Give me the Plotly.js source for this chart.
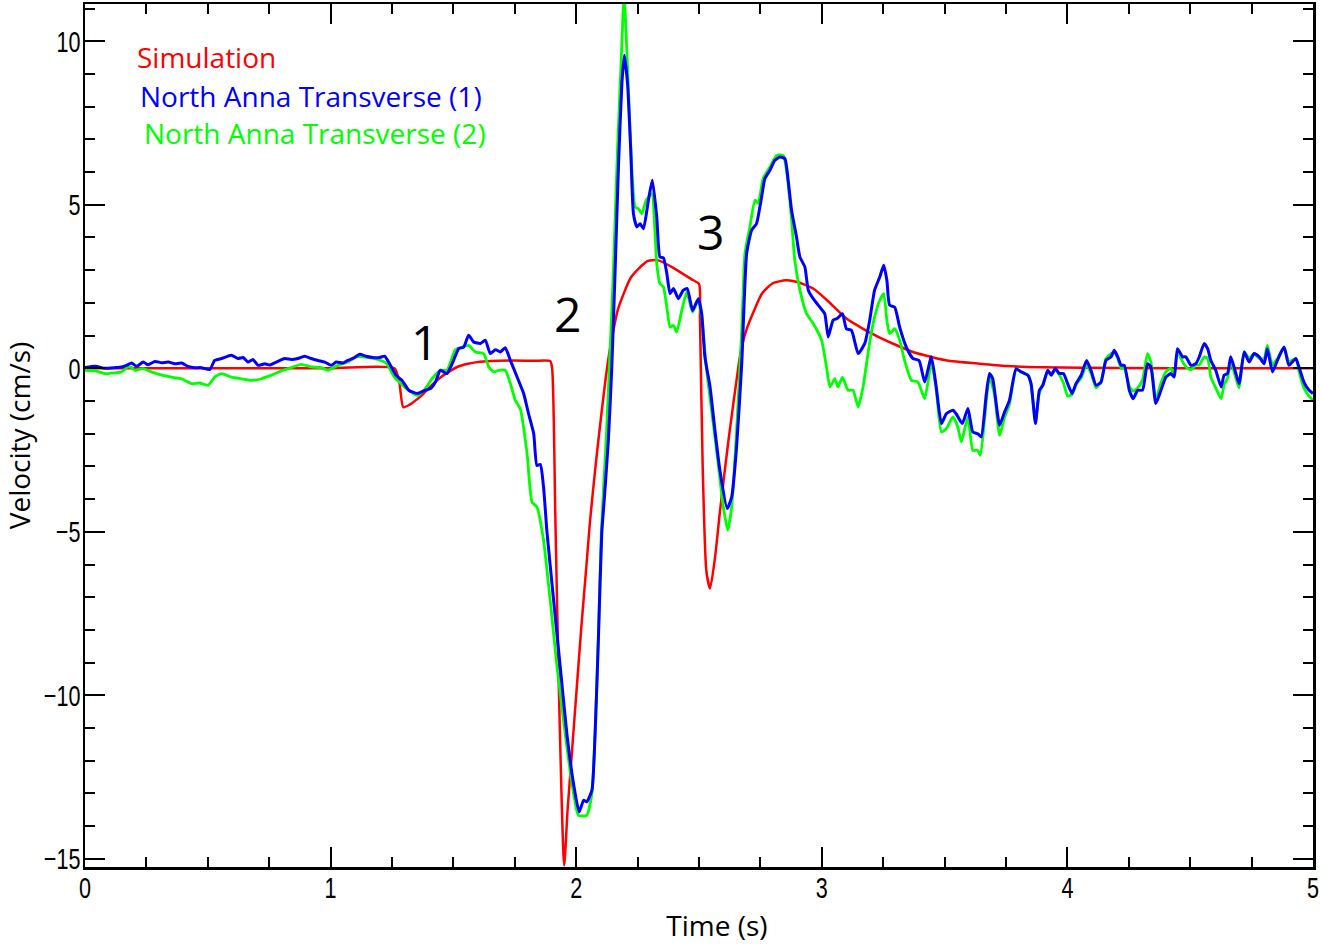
<!DOCTYPE html>
<html>
<head>
<meta charset="utf-8">
<script src="https://cdn.plot.ly/plotly-3.0.1.min.js"></script>
<style>html,body{margin:0;padding:0;background:#fff;}#chart{width:1321px;height:944px;}</style>
</head>
<body>
<div id="chart"></div>
<script>
// Simulation (red)
const simT = [0, 0.5, 1.0, 1.26, 1.28, 1.296, 1.32, 1.366, 1.40, 1.447, 1.515, 1.56, 1.61, 1.68, 1.744, 1.83, 1.894, 1.902, 1.915, 1.93, 1.951, 1.965, 1.99, 2.02, 2.042, 2.056, 2.08, 2.13, 2.15, 2.17, 2.224, 2.29, 2.335, 2.40, 2.47, 2.50, 2.504, 2.515, 2.53, 2.545, 2.565, 2.585, 2.62, 2.66, 2.67, 2.694, 2.758, 2.80, 2.854, 2.90, 2.965, 3.03, 3.10, 3.17, 3.236, 3.30, 3.371, 3.45, 3.51, 3.642, 3.75, 3.90, 4.2, 4.6, 5.0];
const simV = [0, 0, 0, 0, -0.45, -1.19, -1.12, -0.86, -0.6, -0.28, 0.04, 0.14, 0.2, 0.23, 0.24, 0.23, 0.22, 0.0, -4.5, -10.0, -15.2, -13.5, -11.0, -8.0, -6.0, -4.7, -2.9, 0.24, 1.1, 1.8, 2.79, 3.28, 3.30, 3.05, 2.72, 2.58, 1.5, -3.0, -6.2, -6.73, -5.8, -4.4, -2.2, 0.03, 0.5, 1.2, 2.3, 2.6, 2.69, 2.64, 2.44, 2.02, 1.52, 1.2, 0.94, 0.72, 0.50, 0.34, 0.24, 0.14, 0.07, 0.03, 0.01, 0, 0];

// North Anna Transverse (1) (blue)
const na1T = [0.000, 0.041, 0.081, 0.122, 0.149, 0.169, 0.190, 0.210, 0.237, 0.257, 0.285, 0.312, 0.339, 0.366, 0.393, 0.420, 0.447, 0.474, 0.508, 0.528, 0.556, 0.596, 0.623, 0.644, 0.664, 0.684, 0.705, 0.732, 0.752, 0.779, 0.813, 0.840, 0.867, 0.894, 0.921, 0.949, 0.976, 1.003, 1.023, 1.050, 1.070, 1.098, 1.118, 1.145, 1.172, 1.199, 1.220, 1.240, 1.267, 1.291, 1.318, 1.352, 1.386, 1.407, 1.427, 1.447, 1.474, 1.495, 1.522, 1.542, 1.562, 1.583, 1.610, 1.630, 1.650, 1.671, 1.691, 1.711, 1.732, 1.759, 1.786, 1.806, 1.827, 1.840, 1.854, 1.867, 1.881, 1.908, 1.935, 1.962, 1.989, 2.012, 2.030, 2.043, 2.064, 2.077, 2.091, 2.104, 2.114, 2.131, 2.145, 2.159, 2.172, 2.186, 2.196, 2.209, 2.222, 2.233, 2.247, 2.260, 2.274, 2.294, 2.310, 2.328, 2.341, 2.355, 2.369, 2.382, 2.396, 2.416, 2.436, 2.452, 2.474, 2.497, 2.511, 2.524, 2.545, 2.565, 2.585, 2.615, 2.633, 2.653, 2.674, 2.694, 2.714, 2.734, 2.755, 2.768, 2.789, 2.809, 2.829, 2.850, 2.863, 2.877, 2.897, 2.911, 2.931, 2.945, 2.965, 2.992, 3.012, 3.026, 3.046, 3.062, 3.084, 3.100, 3.121, 3.148, 3.175, 3.195, 3.215, 3.236, 3.252, 3.265, 3.276, 3.297, 3.317, 3.344, 3.371, 3.396, 3.419, 3.446, 3.466, 3.487, 3.507, 3.534, 3.547, 3.572, 3.595, 3.615, 3.635, 3.649, 3.670, 3.683, 3.696, 3.724, 3.744, 3.764, 3.791, 3.812, 3.839, 3.852, 3.870, 3.886, 3.900, 3.920, 3.934, 3.951, 3.967, 3.984, 4.001, 4.019, 4.035, 4.056, 4.078, 4.096, 4.117, 4.137, 4.157, 4.178, 4.191, 4.205, 4.219, 4.232, 4.252, 4.268, 4.286, 4.306, 4.326, 4.340, 4.360, 4.381, 4.401, 4.421, 4.435, 4.448, 4.469, 4.482, 4.503, 4.523, 4.537, 4.557, 4.571, 4.584, 4.604, 4.626, 4.638, 4.652, 4.665, 4.686, 4.699, 4.720, 4.740, 4.760, 4.781, 4.801, 4.814, 4.835, 4.855, 4.882, 4.902, 4.930, 4.943, 4.963, 4.984, 5.000];
const na1V = [0.02, 0.06, 0.00, 0.02, 0.04, 0.09, 0.16, 0.06, 0.19, 0.11, 0.21, 0.17, 0.19, 0.14, 0.16, 0.06, 0.02, 0.02, -0.04, 0.24, 0.30, 0.40, 0.30, 0.33, 0.19, 0.27, 0.09, 0.14, 0.10, 0.19, 0.30, 0.27, 0.30, 0.37, 0.30, 0.24, 0.19, 0.09, 0.19, 0.16, 0.24, 0.33, 0.43, 0.37, 0.33, 0.33, 0.37, 0.14, -0.22, -0.37, -0.67, -0.77, -0.67, -0.62, -0.42, -0.06, -0.16, 0.14, 0.60, 0.65, 1.01, 0.80, 0.76, 0.86, 0.45, 0.57, 0.50, 0.63, 0.24, -0.26, -0.77, -1.39, -2.00, -2.97, -2.94, -3.63, -5.0, -7.09, -9.13, -11.17, -12.7, -13.57, -13.21, -13.26, -12.9, -11.17, -8.11, -5.05, -4.04, -2.2, 0.04, 3.10, 6.16, 8.71, 9.57, 8.71, 6.67, 4.73, 4.32, 4.42, 4.27, 5.14, 5.75, 4.63, 3.40, 3.38, 2.90, 2.28, 2.44, 2.13, 2.39, 2.44, 1.77, 2.13, 1.67, 0.35, -0.57, -1.90, -3.12, -4.29, -3.94, -2.41, 0.14, 3.51, 4.22, 4.42, 5.24, 5.80, 6.06, 6.36, 6.46, 6.41, 5.75, 4.83, 4.02, 3.40, 3.10, 2.39, 2.13, 1.87, 1.67, 0.96, 1.47, 1.52, 1.67, 1.21, 1.16, 0.45, 0.76, 1.47, 2.39, 2.79, 3.15, 2.69, 1.93, 1.87, 1.26, 0.65, 0.30, 0.24, -0.42, 0.35, -0.57, -1.69, -1.39, -1.28, -1.39, -1.69, -1.23, -1.95, -2.0, -2.10, -0.77, -0.16, -0.32, -1.74, -1.34, -0.98, -0.01, -0.11, -0.21, -0.47, -1.69, -0.67, -0.52, -0.06, -0.21, -0.01, -0.16, -0.16, -0.47, -0.77, -0.47, -0.21, 0.24, -0.06, -0.52, -0.42, 0.24, 0.35, 0.55, 0.35, 0.09, 0.09, -0.67, -0.93, -0.67, -0.67, 0.14, 0.04, -1.08, -0.67, -0.27, -0.16, -0.27, 0.60, 0.35, 0.35, 0.09, 0.14, 0.35, 0.76, 0.60, 0.24, -0.06, -0.57, -0.21, -0.16, 0.35, -0.16, -0.47, 0.50, 0.19, 0.45, 0.35, 0.14, 0.60, -0.11, 0.24, 0.65, 0.09, 0.30, 0.04, -0.42, -0.67, -0.77];

// North Anna Transverse (2) (green)
const na2T = [0.000, 0.041, 0.081, 0.122, 0.149, 0.176, 0.190, 0.203, 0.237, 0.271, 0.312, 0.352, 0.393, 0.434, 0.467, 0.501, 0.528, 0.556, 0.596, 0.637, 0.678, 0.718, 0.759, 0.799, 0.840, 0.881, 0.921, 0.962, 0.989, 1.030, 1.070, 1.104, 1.152, 1.192, 1.226, 1.260, 1.301, 1.318, 1.352, 1.386, 1.413, 1.447, 1.474, 1.508, 1.535, 1.562, 1.589, 1.623, 1.644, 1.664, 1.684, 1.711, 1.732, 1.752, 1.772, 1.800, 1.820, 1.840, 1.867, 1.894, 1.922, 1.955, 1.983, 2.009, 2.043, 2.064, 2.077, 2.091, 2.102, 2.122, 2.135, 2.152, 2.168, 2.182, 2.195, 2.209, 2.226, 2.240, 2.253, 2.267, 2.285, 2.308, 2.321, 2.328, 2.341, 2.355, 2.369, 2.382, 2.396, 2.409, 2.430, 2.450, 2.474, 2.497, 2.511, 2.531, 2.558, 2.578, 2.599, 2.617, 2.633, 2.653, 2.674, 2.687, 2.707, 2.728, 2.741, 2.761, 2.789, 2.816, 2.843, 2.856, 2.877, 2.890, 2.911, 2.938, 2.965, 2.999, 3.019, 3.033, 3.053, 3.066, 3.084, 3.107, 3.127, 3.148, 3.168, 3.195, 3.215, 3.236, 3.252, 3.265, 3.276, 3.297, 3.317, 3.337, 3.365, 3.391, 3.419, 3.446, 3.466, 3.487, 3.507, 3.534, 3.554, 3.568, 3.595, 3.615, 3.635, 3.646, 3.670, 3.683, 3.703, 3.724, 3.744, 3.764, 3.791, 3.812, 3.839, 3.852, 3.870, 3.886, 3.900, 3.920, 3.934, 3.951, 3.967, 3.984, 4.001, 4.019, 4.035, 4.056, 4.078, 4.096, 4.117, 4.137, 4.157, 4.178, 4.191, 4.205, 4.219, 4.232, 4.252, 4.268, 4.286, 4.306, 4.326, 4.340, 4.360, 4.381, 4.401, 4.421, 4.435, 4.448, 4.469, 4.482, 4.503, 4.523, 4.537, 4.557, 4.571, 4.584, 4.604, 4.626, 4.638, 4.652, 4.665, 4.686, 4.699, 4.720, 4.740, 4.760, 4.781, 4.801, 4.814, 4.835, 4.855, 4.882, 4.902, 4.930, 4.943, 4.963, 4.984, 5.000];
const na2V = [-0.06, -0.08, -0.16, -0.14, -0.11, 0.04, 0.02, -0.06, -0.01, -0.11, -0.21, -0.27, -0.32, -0.47, -0.45, -0.52, -0.27, -0.16, -0.27, -0.32, -0.37, -0.32, -0.21, -0.08, 0.02, 0.12, 0.04, 0.02, -0.06, 0.09, 0.19, 0.35, 0.33, 0.27, 0.16, -0.27, -0.57, -0.67, -0.83, -0.62, -0.32, -0.06, -0.06, 0.57, 0.65, 0.70, 0.50, 0.45, 0.04, -0.11, -0.06, -0.06, -0.47, -0.98, -1.23, -2.61, -4.09, -4.24, -5.26, -7.09, -9.13, -11.17, -12.7, -13.67, -13.67, -13.0, -11.17, -8.1, -5.05, -2.2, 0.04, 3.10, 6.67, 9.2, 11.4, 9.2, 6.16, 4.93, 4.88, 4.73, 5.14, 5.34, 4.12, 3.2, 2.59, 2.49, 1.87, 1.26, 1.31, 1.11, 1.77, 2.33, 1.72, 2.08, 1.57, -0.06, -1.69, -2.91, -4.24, -4.95, -4.24, -1.9, 1.16, 3.51, 4.32, 5.14, 5.04, 5.80, 6.16, 6.51, 6.51, 6.06, 4.53, 3.30, 2.39, 1.67, 1.37, 0.86, 0.04, -0.57, -0.32, -0.57, -0.27, -0.67, -0.67, -1.18, -0.57, 0.8, 1.57, 2.08, 2.28, 1.47, 1.06, 1.21, 0.86, 0.24, -0.37, -0.42, -0.93, 0.19, -0.67, -1.95, -1.85, -1.49, -1.80, -2.25, -1.49, -2.51, -2.51, -2.66, -0.98, -0.27, -0.8, -2.05, -1.5, -1.1, -0.05, -0.11, -0.21, -0.5, -1.6, -0.75, -0.5, -0.1, -0.15, -0.05, -0.2, -0.45, -0.85, -0.8, -0.5, -0.3, 0.1, -0.15, -0.6, -0.4, 0.3, 0.45, 0.5, 0.3, 0.0, 0.0, -0.55, -0.7, -0.6, -0.35, 0.45, 0.2, -0.95, -0.45, -0.1, 0.0, -0.2, 0.5, 0.2, 0.05, -0.05, 0.1, 0.1, 0.35, 0.3, -0.27, -0.6, -0.93, -0.5, -0.3, 0.2, -0.3, -0.6, 0.5, 0.3, 0.45, 0.3, 0.3, 0.7, 0.1, 0.3, 0.65, 0.2, 0.3, -0.1, -0.6, -0.85, -0.98];

const seriesNames = ['Simulation', 'North Anna Transverse (1)', 'North Anna Transverse (2)'];
const seriesColors = ['#ff0000', '#0000ff', '#00ff00'];
const peakLabels = ['1', '2', '3'];
const peakX = [1.382, 1.963, 2.545];
const peakY = [0.83, 1.68, 4.19];

const tickFont = {family: 'Liberation Sans, Arial, sans-serif', size: 30, color: '#000'};
const labelFont = 'Open Sans, sans-serif';

const traces = [
  {x: simT, y: simV, mode: 'lines', line: {color: seriesColors[0], width: 2.5, shape: 'spline', smoothing: 0.6}, name: seriesNames[0]},
  {x: na2T, y: na2V, mode: 'lines', line: {color: seriesColors[2], width: 2.8, shape: 'spline', smoothing: 0.5}, name: seriesNames[2]},
  {x: na1T, y: na1V, mode: 'lines', line: {color: seriesColors[1], width: 3, shape: 'spline', smoothing: 0.5}, name: seriesNames[1]}
];

const legendY = [0.9384, 0.8931, 0.8502];
const legendX = [0.0405, 0.043, 0.0465];
const annotations = [];
for (let i = 0; i < 3; i++) {
  annotations.push({xref: 'paper', yref: 'paper', x: legendX[i], y: legendY[i], xanchor: 'left', yanchor: 'middle',
    text: seriesNames[i], showarrow: false, font: {family: labelFont, size: 28, color: seriesColors[i]}});
}
for (let i = 0; i < 3; i++) {
  annotations.push({x: peakX[i], y: peakY[i], xanchor: 'center', yanchor: 'middle', text: peakLabels[i],
    showarrow: false, font: {family: labelFont, size: 48, color: '#000'}});
}

const axisCommon = {
  showline: true, linecolor: '#000', linewidth: 2.5, mirror: 'ticks',
  ticks: 'inside', ticklen: 20, tickwidth: 2, tickcolor: '#000',
  showgrid: false, zeroline: false, tickfont: tickFont, ticklabeloverflow: 'allow'
};

const layout = {
  width: 1321, height: 944,
  margin: {l: 85, r: 8, t: 4, b: 77},
  paper_bgcolor: '#fff', plot_bgcolor: '#fff',
  showlegend: false,
  xaxis: Object.assign({}, axisCommon, {
    range: [0, 5], dtick: 1, tick0: 0,
    minor: {dtick: 0.25, ticklen: 10, tickwidth: 2, tickcolor: '#000', ticks: 'inside', showgrid: false},
    title: {text: 'Time (s)', font: {family: labelFont, size: 28, color: '#000'}, standoff: 8}
  }),
  yaxis: Object.assign({}, axisCommon, {
    range: [-15.25, 11.14], dtick: 5, tick0: 0,
    minor: {dtick: 1, ticklen: 10, tickwidth: 2, tickcolor: '#000', ticks: 'inside', showgrid: false},
    title: {text: 'Velocity (cm/s)', font: {family: labelFont, size: 28, color: '#000'}, standoff: 4}
  }),
  annotations: annotations
};

function squeeze(sel, dx, dy) {
  document.querySelectorAll(sel).forEach(function (t) {
    const x = parseFloat(t.getAttribute('x')) || 0;
    const y = parseFloat(t.getAttribute('y')) || 0;
    const tr = t.getAttribute('transform') || '';
    t.setAttribute('transform', tr + ' translate(' + (x + dx) + ',' + (y + dy) + ') scale(0.72,1) translate(' + (-x) + ',' + (-y) + ')');
  });
}

Plotly.newPlot('chart', traces, layout, {displayModeBar: false, staticPlot: true}).then(function () {
  // narrow (condensed) tick-label look of the original
  squeeze('.xtick text', 0, -7);
  squeeze('.ytick text', 4, 0);
  // the original's x-axis title sits a little right of the plot centre
  document.querySelectorAll('.xtitle').forEach(function (t) {
    const tr = t.getAttribute('transform') || '';
    t.setAttribute('transform', 'translate(18,0) ' + tr);
  });
});
</script>
</body>
</html>
